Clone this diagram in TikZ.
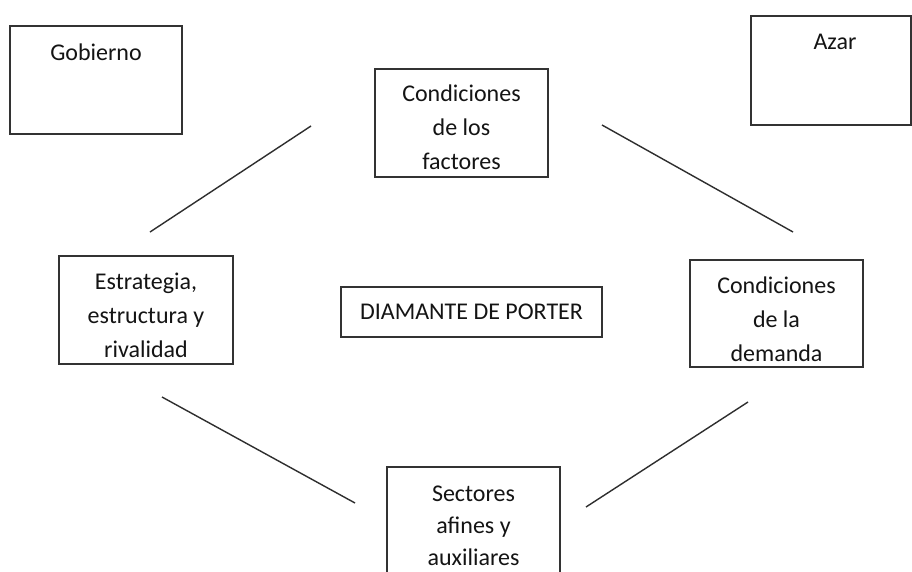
\documentclass[tikz,border=0pt]{standalone}
\usepackage{fontspec}
\setmainfont{Carlito}
\definecolor{boxgray}{HTML}{333333}
\definecolor{linegray}{HTML}{2E2E2E}
\definecolor{textcol}{HTML}{141414}
\begin{document}
\begin{tikzpicture}[x=1pt,y=-1pt,
  box/.style={draw=boxgray, line width=1.4pt, rectangle, inner sep=0pt},
  lbl/.style={font=\fontsize{24}{34}\selectfont, inner sep=0pt, text=textcol, align=center},
  link/.style={draw=linegray, line width=1.4pt}]
\clip (0,0) rectangle (912,571);
\fill[white] (0,0) rectangle (912,571);
% boxes
\node[box, minimum width=172pt, minimum height=108pt] (gob) at (96,80) {};
\node[lbl, anchor=north] (gobt) at ([yshift=-18pt]gob.north) {Gobierno};
\node[box, minimum width=160pt, minimum height=109pt] (azar) at (831,70.5) {};
\node[lbl, anchor=north] (azart) at ([xshift=4pt,yshift=-18.5pt]azar.north) {Azar};
\node[box, minimum width=173pt, minimum height=108pt] (fac) at (461.5,123) {};
\node[lbl] (fact) at ([yshift=-4.5pt]fac.center) {Condiciones\\de los\\factores};
\node[box, minimum width=174pt, minimum height=108pt] (est) at (146,310) {};
\node[lbl] (estt) at ([yshift=-5.5pt]est.center) {Estrategia,\\estructura y\\rivalidad};
\node[box, minimum width=261pt, minimum height=50pt] (diam) at (471.5,312) {};
\node[lbl] (diamt) at (diam.center) {DIAMANTE DE PORTER};
\node[box, minimum width=173pt, minimum height=107pt] (dem) at (776.5,313.5) {};
\node[lbl] (demt) at ([yshift=-5.5pt]dem.center) {Condiciones\\de la\\demanda};
\node[box, minimum width=173pt, minimum height=110pt] (sec) at (473.5,522) {};
\node[lbl, font=\fontsize{24}{32}\selectfont] (sect) at ([yshift=-4pt]sec.center) {Sectores\\afines y\\auxiliares};
% connector end points
\coordinate (c1a) at (311,126); \coordinate (c1b) at (150,232);
\coordinate (c2a) at (602,125); \coordinate (c2b) at (793,232);
\coordinate (c3a) at (162,397); \coordinate (c3b) at (355,503);
\coordinate (c4a) at (748,402); \coordinate (c4b) at (586,507);
\draw[link] (c1a) -- (c1b);
\draw[link] (c2a) -- (c2b);
\draw[link] (c3a) -- (c3b);
\draw[link] (c4a) -- (c4b);
\end{tikzpicture}
\end{document}
